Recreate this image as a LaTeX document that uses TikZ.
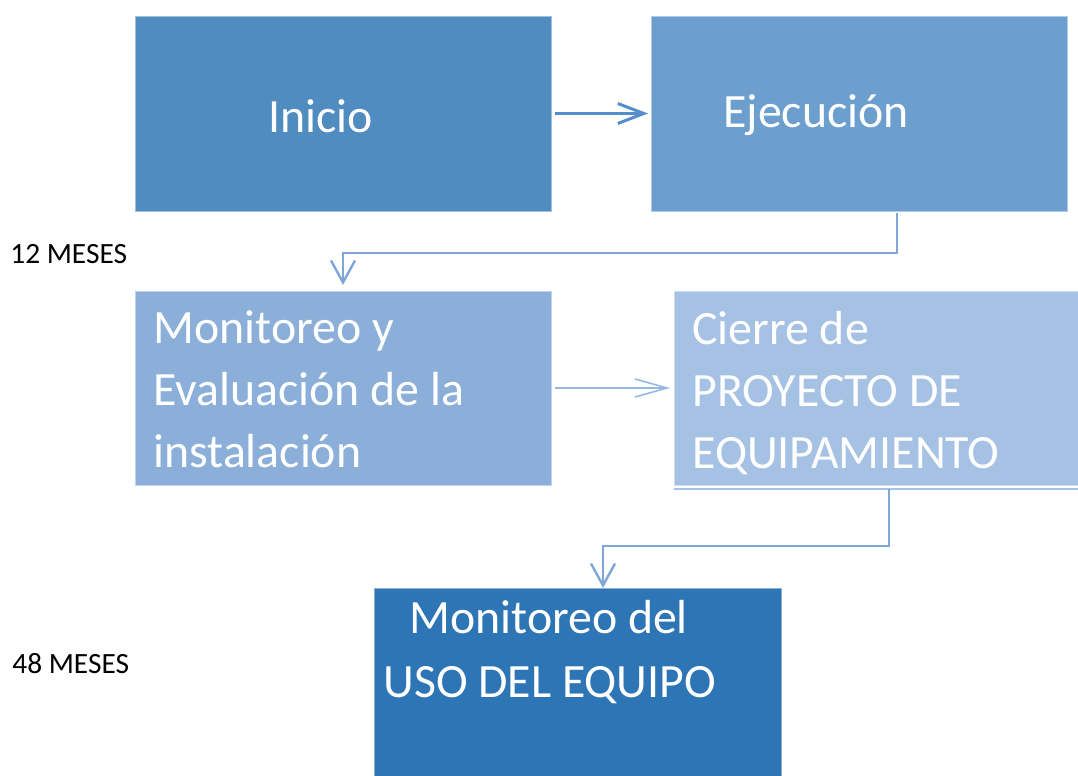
\documentclass[tikz,border=0pt]{standalone}
\usepackage{fontspec}
\setmainfont{Carlito}
\usetikzlibrary{arrows.meta}
\definecolor{inicioc}{RGB}{81,140,193}
\definecolor{ejecc}{RGB}{108,158,206}
\definecolor{monitc}{RGB}{139,175,217}
\definecolor{cierrec}{RGB}{165,193,228}
\definecolor{usoc}{RGB}{46,117,182}
\definecolor{arrowa}{RGB}{84,143,204}
\definecolor{arrowb}{RGB}{126,167,216}
\definecolor{arrowc}{RGB}{150,184,225}
\begin{document}
\begin{tikzpicture}[x=0.5pt, y=-0.5pt,
    box/.style={fill=#1, draw=#1!55!white, line width=0.5pt,
                inner sep=0pt, outer sep=0pt},
    txt/.style={font=\fontsize{23.9}{31}\selectfont, text=white,
                align=left, anchor=base west, inner sep=0pt},
    note/.style={font=\fontsize{14.7}{17}\selectfont, anchor=base west, inner sep=0pt},
    arr/.style={-{Straight Barb[length=13pt, width=10pt]}, line width=1.5pt, draw=arrowa},
    arrb/.style={-{Straight Barb[length=11pt, width=12pt]}, line width=1.2pt, draw=arrowb},
    arrc/.style={-{Straight Barb[length=16pt, width=9pt]}, line width=0.8pt, draw=arrowc},
  ]
  \useasboundingbox (0,0) rectangle (1078,776);

  % Boxes
  \node[box=inicioc, minimum width=208pt, minimum height=97.5pt] (inicio) at (343,113.5) {};
  \node[box=ejecc, minimum width=208pt, minimum height=97.5pt] (ejecucion) at (859,113.5) {};
  \node[box=monitc, minimum width=208pt, minimum height=97pt] (monit) at (343,388) {};
  \node[box=cierrec, minimum width=202pt, minimum height=97pt] (cierre) at (876,388) {};
  \node[box=usoc, minimum width=203.5pt, minimum height=94pt] (uso) at (577.5,682) {};
  \draw[cierrec, line width=0.8pt] ([yshift=-2pt]cierre.south west) -- ([yshift=-2pt]cierre.south east);

  % Box texts (base = last line)
  \node[txt] (inicio-t) at (268,133) {Inicio};
  \node[txt] (ejecucion-t) at (723,127) {Ejecución};
  \node[txt] (monit-t) at (153,467) {Monitoreo y\\Evaluación de la\\instalación};
  \node[txt] (cierre-t) at (692,468) {Cierre de\\PROYECTO DE\\EQUIPAMIENTO};
  \node[txt] (uso-t1) at (409,633) {Monitoreo del};
  \node[txt] (uso-t2) at (383,697) {USO DEL EQUIPO};

  % Durations
  \node[note] (dur12) at (10,263) {12 MESES};
  \node[note] (dur48) at (12,673) {48 MESES};

  % Connectors
  \draw[arr] ([xshift=2pt]inicio.east) -- ([xshift=-1.5pt]ejecucion.west);
  \draw[arrb] ([xshift=19pt,yshift=-1pt]ejecucion.south) -- ++(0,40) -| ([yshift=3pt]monit.north);
  \draw[arrc] ([xshift=2pt]monit.east) -- ([xshift=-2pt]cierre.west);
  \draw[arrb] ([xshift=6.5pt,yshift=-2pt]cierre.south) -- ++(0,57) -| ([xshift=12.75pt]uso.north);
\end{tikzpicture}
\end{document}
